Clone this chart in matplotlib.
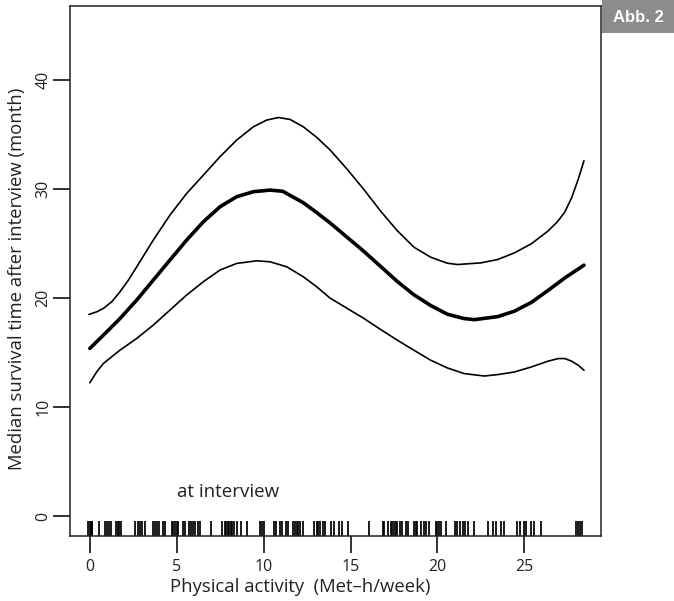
import matplotlib
matplotlib.use("Agg")
import matplotlib.pyplot as plt
import matplotlib.transforms as mtransforms

plt.rcParams['font.family'] = ['Open Sans', 'DejaVu Sans']

# ---- data ----
mid_x = [0, 0.78, 1.74, 2.7, 3.65, 4.61, 5.57, 6.53, 7.49, 8.45, 9.41, 10.37, 11.1, 12.28,
         13.05, 13.82, 15.75, 17.68, 18.64, 19.61, 20.57, 21.54, 22.12, 23.47, 24.43,
         25.4, 26.36, 27.33, 28.43]
mid_y = [15.38, 16.6, 18.13, 19.82, 21.65, 23.49, 25.32, 27.0, 28.38, 29.3, 29.76, 29.91, 29.8, 28.75,
         27.85, 26.9, 24.31, 21.54, 20.31, 19.32, 18.52, 18.12, 18.02, 18.3, 18.8,
         19.6, 20.7, 21.85, 23.02]

up_x = [-0.05, 0.4, 0.78, 1.26, 1.74, 2.22, 2.7, 3.65, 4.61, 5.57, 6.53, 7.49, 8.45, 9.41,
        10.17, 10.85, 11.52, 12.28, 13.05, 13.82, 14.79, 15.75, 16.72, 17.68, 18.64,
        19.61, 20.57, 21.15, 22.5, 23.47, 24.43, 25.4, 26.36, 26.9, 27.33, 27.72, 28.1, 28.43]
up_y = [18.5, 18.74, 19.05, 19.66, 20.58, 21.65, 22.87, 25.32, 27.61, 29.6, 31.28, 32.97, 34.5, 35.72,
        36.33, 36.57, 36.39, 35.72, 34.75, 33.6, 31.85, 30.0, 28.0, 26.2, 24.68,
        23.75, 23.2, 23.08, 23.23, 23.54, 24.15, 24.98, 26.15, 27.0, 27.9, 29.2, 30.9, 32.6]

lo_x = [0, 0.4, 0.78, 1.74, 2.7, 3.65, 4.61, 5.57, 6.53, 7.49, 8.45, 9.6, 10.37, 11.33,
        12.28, 13.05, 13.82, 14.79, 15.75, 16.72, 17.68, 18.64, 19.61, 20.57, 21.54,
        22.7, 23.47, 24.43, 25.4, 26.36, 26.95, 27.33, 27.72, 28.1, 28.43]
lo_y = [12.23, 13.24, 14.0, 15.23, 16.3, 17.52, 18.9, 20.28, 21.5, 22.57, 23.18, 23.42, 23.33, 22.87,
        21.96, 21.04, 20.0, 19.07, 18.15, 17.13, 16.15, 15.22, 14.3, 13.59, 13.07,
        12.85, 12.98, 13.22, 13.68, 14.21, 14.45, 14.45, 14.21, 13.84, 13.38]

rug = [-0.1, 0.0, 0.05, 0.1, 0.15, 0.55,
       0.9, 1.0, 1.1, 1.2, 1.5, 1.6, 1.7, 1.8,
       2.6, 2.75, 2.9, 3.0, 3.2, 3.65, 3.75, 3.85, 4.0, 4.2, 4.3,
       4.7, 4.8, 4.9, 5.0, 5.1, 5.35, 5.5, 5.7, 5.8, 5.95, 6.05, 6.2, 6.35,
       7.0, 7.6, 7.75, 7.85, 7.95, 8.0, 8.1, 8.2, 8.3, 8.45, 8.7, 9.05,
       9.8, 9.9, 10.0, 10.6, 10.7, 10.95, 11.05, 11.3, 11.4,
       11.7, 11.8, 11.9, 12.0, 12.1, 12.25,
       12.9, 13.05, 13.15, 13.25, 13.4, 13.55, 13.85, 14.05, 14.35, 14.5, 14.85,
       16.05, 16.85, 16.95, 17.15, 17.3, 17.4, 17.5, 17.6, 17.7, 17.85, 17.95,
       18.2, 18.3, 18.65, 18.75, 18.85, 19.05, 19.2, 19.35, 19.5,
       19.9, 20.0, 20.1, 20.2, 20.5, 21.0,
       21.15, 21.3, 21.45, 21.6, 21.75, 22.1, 22.9, 23.2, 23.35, 23.65, 23.85,
       24.6, 24.75, 25.0, 25.1, 25.4, 25.55, 25.95,
       28.0, 28.1, 28.2, 28.3]

x_ticks = [0, 5, 10, 15, 20, 25]
y_ticks = [0, 10, 20, 30, 40]

# ---- figure ----
fig = plt.figure(figsize=(6.74, 6.01), dpi=100)
W, H = 674, 601
left, right, top, bottom = 70, 601, 6, 536
ax = fig.add_axes([left / W, (H - bottom) / H, (right - left) / W, (bottom - top) / H])

ax.plot(up_x, up_y, color='black', lw=1.2, solid_capstyle='round', solid_joinstyle='round')
ax.plot(lo_x, lo_y, color='black', lw=1.2, solid_capstyle='round', solid_joinstyle='round')
ax.plot(mid_x, mid_y, color='black', lw=2.6, solid_capstyle='round', solid_joinstyle='round')

trans = mtransforms.blended_transform_factory(ax.transData, ax.transAxes)
ax.vlines(rug, 0, 0.029, transform=trans, color='black', lw=1.25)

ax.set_xlim(-1.14, 29.41)
ax.set_ylim(-1.83, 46.8)
ax.set_xticks(x_ticks)
ax.set_yticks(y_ticks)
ax.set_xticklabels([str(v) for v in x_ticks])
ax.set_yticklabels([str(v) for v in y_ticks], rotation=90, va='center')

for s in ax.spines.values():
    s.set_color('#222222')
    s.set_linewidth(1.1)
ax.tick_params(axis='both', direction='out', length=12.5, width=1.3, color='#222222',
               labelsize=11.5, labelcolor='#222222')
ax.tick_params(axis='x', pad=4)
ax.tick_params(axis='y', pad=1)

ax.set_xlabel('Physical activity  (Met\u2013h/week)', fontsize=13.3, color='#222222')
ax.xaxis.set_label_coords((300 - left) / (right - left), (bottom - 587) / (bottom - top))
ax.xaxis.label.set_verticalalignment('center')
ax.set_ylabel('Median survival time after interview (month)', fontsize=13.3, color='#222222')
ax.yaxis.set_label_coords((17 - left) / (right - left), (bottom - 279) / (bottom - top))
ax.yaxis.label.set_verticalalignment('center')

ax.text(5.0, 2.23, 'at interview', fontsize=13.5, color='#222222', ha='left', va='center')

# "Abb. 2" tag
fig.patches.append(plt.Rectangle((602 / W, 1 - 33 / H), 72 / W, 33 / H,
                                 transform=fig.transFigure, facecolor='#8c8c8c',
                                 edgecolor='none'))
fig.text(638 / W, 1 - 17 / H, 'Abb. 2', fontsize=12, fontweight='bold', color='white',
         ha='center', va='center', family=['Liberation Sans', 'DejaVu Sans'])

fig.savefig('out.png', dpi=100)
